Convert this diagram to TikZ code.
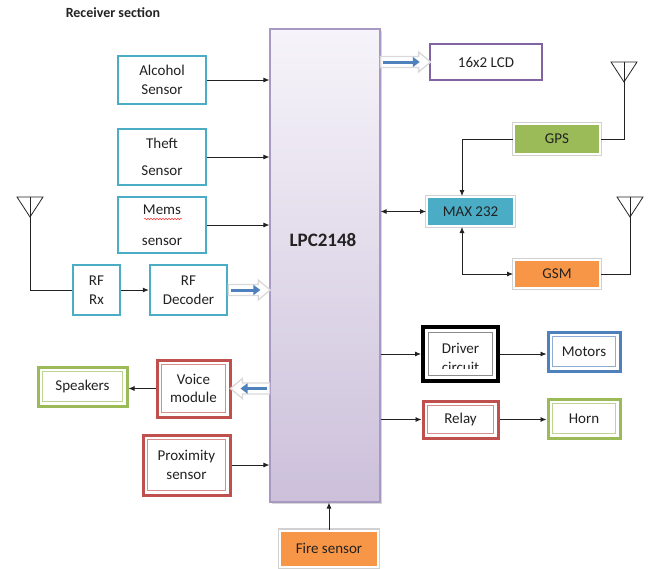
\documentclass[tikz,border=0pt]{standalone}
\usepackage{fontspec}
\setmainfont{Carlito}
\usetikzlibrary{arrows.meta,shadows,calc,decorations.pathmorphing}
\definecolor{cyanC}{HTML}{4BACC6}
\definecolor{purpleC}{HTML}{8064A2}
\definecolor{redC}{HTML}{C0504D}
\definecolor{greenC}{HTML}{9BBB59}
\definecolor{blueC}{HTML}{4F81BD}
\definecolor{orangeC}{HTML}{F79646}
\definecolor{lpcB}{HTML}{A898C4}
\definecolor{lpcTop}{HTML}{F6F4FA}
\definecolor{lpcBot}{HTML}{CCC0DA}
\definecolor{txtC}{HTML}{222222}
\begin{document}
\begin{tikzpicture}[x=1pt,y=-1pt,
  txt/.style={font=\fontsize{15}{17.5}\selectfont, text=txtC, align=center, inner sep=0pt},
  sz/.style 2 args={minimum width=#1, minimum height=#2},
  cbox/.style={txt, draw=cyanC, line width=2.5pt, fill=white},
  dbl/.style={txt, draw=#1, line width=3pt, fill=white,
    path picture={\draw[#1!65, line width=1.1pt]
      ([shift={(4.5pt,-4.5pt)}]path picture bounding box.north west) rectangle
      ([shift={(-4.5pt,4.5pt)}]path picture bounding box.south east);}},
  fbox/.style={txt, fill=#1, draw=white, line width=2pt,
    preaction={draw=black!18, line width=4.5pt}},
  conn/.style={-{Latex[length=6pt,width=5pt]}, line width=0.8pt, txtC},
  dconn/.style={{Latex[length=6pt,width=5pt]}-{Latex[length=6pt,width=5pt]}, line width=0.8pt, txtC},
  wire/.style={line width=0.8pt, txtC},
  bluearr/.style={blueC, line width=3pt, -{Triangle[length=7pt,width=10pt]}},
  pics/boutline/.style={code={
    \draw[black!15, line width=1.3pt, fill=white]
      (0,-5.5) -- (#1-12,-5.5) -- (#1-12,-10) -- (#1,0) -- (#1-12,10) -- (#1-12,5.5) -- (0,5.5) -- cycle;}},
  pics/antenna/.style={code={
    \draw[wire] (-13,-20) -- (13,-20) -- (0,0) -- cycle;
    \draw[wire] (0,-20) -- (0,0);}}
]
\useasboundingbox (0,0) rectangle (648,568);

% title
\node[txt, font=\fontsize{14}{17}\selectfont\bfseries] (title) at (113,13) {Receiver section};

% controller
\node[draw=lpcB, line width=1.2pt, top color=lpcTop, bottom color=lpcBot, sz={110pt}{473pt},
      drop shadow={shadow xshift=2pt, shadow yshift=-2pt, fill=black!30, opacity=0.5}] (lpc) at (325,265.5) {};
\node[txt, font=\fontsize{19}{22}\selectfont\bfseries] (lpctxt) at (323,240) {LPC2148};

% left inputs
\node[cbox, sz={88pt}{48pt}] (alcohol) at (162,80) {Alcohol\\[1pt]Sensor};
\node[cbox, sz={88pt}{56pt}] (theft) at (162,157) {Theft\\[9pt]Sensor};
\node[cbox, sz={88pt}{56pt}] (mems) at (162,225) {Mems\\[13pt]sensor};
\draw[red!80, line width=0.5pt, decorate, decoration={snake, amplitude=0.8pt, segment length=3pt}] (144,219) -- (182,219);
\node[cbox, sz={47pt}{50pt}] (rfrx) at (96.5,290) {RF\\[2pt]Rx};
\node[cbox, sz={77pt}{50pt}] (rfdec) at (188.5,290) {RF\\[2pt]Decoder};
\node[dbl=redC, sz={73pt}{57pt}] (voice) at (193.5,388.5) {Voice\\[1pt]module};
\node[dbl=greenC, sz={89pt}{39pt}] (speakers) at (82.5,386.5) {Speakers};
\node[dbl=redC, sz={87pt}{60pt}] (prox) at (186.5,465) {Proximity\\[2pt]sensor};
\node[fbox=orangeC, sz={98pt}{36pt}] (fire) at (329,548.5) {Fire sensor};

% right outputs
\node[txt, draw=purpleC, line width=2.5pt, fill=white, sz={112pt}{36pt}] (lcd) at (486,62) {16x2 LCD};
\node[fbox=greenC, sz={86pt}{30pt}] (gps) at (557,139) {GPS};
\node[fbox=cyanC, sz={87pt}{29pt}] (max) at (470.5,211.5) {MAX 232};
\node[fbox=orangeC, sz={86pt}{28pt}] (gsm) at (557,274) {GSM};
\node[txt, draw=black, line width=4pt, fill=white, sz={75pt}{54pt},
  path picture={\draw[black!45, line width=1pt]
      ([shift={(5.5pt,-5.5pt)}]path picture bounding box.north west) rectangle
      ([shift={(-5.5pt,5.5pt)}]path picture bounding box.south east);}] (driver) at (460.5,354) {};
\begin{scope}
  \clip (424,330) rectangle (497,368.5);
  \node[txt] (drvt1) at (460.5,348) {Driver};
  \node[txt] (drvt2) at (460.5,367) {circuit};
\end{scope}
\node[dbl=blueC, sz={72pt}{39pt}] (motors) at (584,351.5) {Motors};
\node[dbl=redC, sz={75pt}{37pt}] (relay) at (460.5,419.5) {Relay};
\node[dbl=greenC, sz={72pt}{39pt}] (horn) at (584,418.5) {Horn};

% antennas
\coordinate (ant1) at (30,217);
\coordinate (ant2) at (624,82);
\coordinate (ant3) at (630,217);
\pic at (ant1) {antenna};
\pic at (ant2) {antenna};
\pic at (ant3) {antenna};

% connectors
\draw[conn] (alcohol.east) -- (lpc.west |- alcohol.east);
\draw[conn] (theft.east) -- (lpc.west |- theft.east);
\draw[conn] (mems.east) -- (lpc.west |- mems.east);
\draw[wire] (ant1) |- (rfrx.west);
\draw[conn] (rfrx.east) -- (rfdec.west);
\draw[conn] (prox.east) -- (lpc.west |- prox.east);
\draw[conn] (voice.west) -- (voice.west -| speakers.east);
\draw[conn] (fire.north) -- (fire.north |- lpc.south);

\draw[dconn] (lpc.east |- max.west) -- (max.west);
\draw[conn] (gps.west) -| ([xshift=-8.5pt]max.north);
\draw[dconn] ([xshift=-8.5pt]max.south) |- (gsm.west);
\draw[wire] (gps.east) -| (ant2);
\draw[wire] (gsm.east) -| (ant3);
\draw[conn] (lpc.east |- driver.west) -- (driver.west);
\draw[conn] (driver.east) -- (driver.east -| motors.west);
\draw[conn] (lpc.east |- relay.west) -- (relay.west);
\draw[conn] (relay.east) -- (relay.east -| horn.west);

% block arrows
\pic at (lpc.east |- lcd.west) {boutline=50};
\draw[bluearr, shorten <=2pt, shorten >=9pt] (lpc.east |- lcd.west) -- (lcd.west);
\pic at (rfdec.east) {boutline=42};
\draw[bluearr, shorten <=3pt, shorten >=9pt] (rfdec.east) -- (lpc.west |- rfdec.east);
\pic[rotate=180] at (lpc.west |- voice.east) {boutline=39};
\draw[bluearr, shorten <=2pt, shorten >=9pt] (lpc.west |- voice.east) -- (voice.east);
\end{tikzpicture}
\end{document}
